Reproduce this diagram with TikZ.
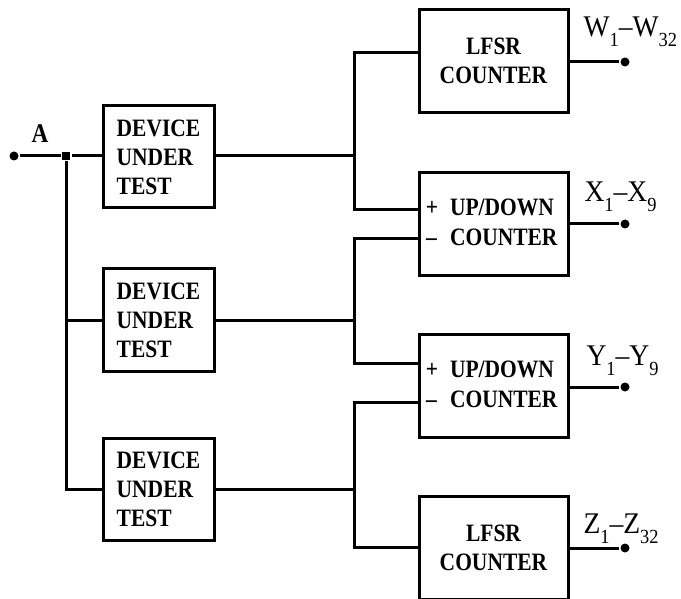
\documentclass[tikz,border=0pt]{standalone}
\usepackage{fontspec}
\setmainfont{Liberation Serif}
\newfontfamily\boxfont[FakeStretch=0.86]{Liberation Serif Bold}
\newfontfamily\lblfont[FakeStretch=0.92]{Liberation Serif}
\usetikzlibrary{calc}
\begin{document}
\begin{tikzpicture}[x=1pt,y=-1pt,
  line width=3pt,
  boxtxt/.style={font=\boxfont\fontsize{25}{29}\selectfont},
  dutbox/.style={draw,boxtxt,align=left,minimum width=111pt,minimum height=102pt,inner sep=0pt},
  cntbox/.style={draw,boxtxt,align=center,minimum width=149pt,minimum height=103pt,inner sep=0pt},
  lbl/.style={font=\lblfont\fontsize{30}{32}\selectfont,anchor=base west,inner sep=0pt},
  dot/.style={circle,fill,inner sep=0pt,minimum size=9pt},
  junc/.style={rectangle,fill,inner sep=0pt,minimum size=8pt}]
\useasboundingbox (0,0) rectangle (681,599);
\newcommand{\sbs}[1]{\raisebox{-10pt}{\fontsize{20}{20}\selectfont #1}}

% left part
\node[dot] (in) at (14,156) {};
\node[font=\boxfont\fontsize{27}{30}\selectfont,anchor=base,inner sep=0pt] (A) at (40,143) {A};
\node[junc] (J) at (66,156) {};
\node[dutbox] (dut1) at (158.5,157) {DEVICE\\UNDER\\TEST};
\node[dutbox] (dut2) at (158.5,320) {DEVICE\\UNDER\\TEST};
\node[dutbox] (dut3) at (158.5,489.5) {DEVICE\\UNDER\\TEST};

% right boxes
\node[cntbox] (lfsr1) at (493.5,61) {LFSR\\COUNTER};
\node[cntbox] (ud1) at (493.5,224) {};
\node[cntbox] (ud2) at (493.5,385.5) {};
\node[cntbox] (lfsr2) at (493.5,547.5) {LFSR\\COUNTER};

\foreach \u in {ud1,ud2}{
  \node[boxtxt,anchor=base,inner sep=0pt] (\u p) at ($(\u.west)+(14.5,-8)$) {+};
  \node[boxtxt,anchor=base west,inner sep=0pt] (\u a) at ($(\u.west)+(31,-8)$) {UP/DOWN};
  \node[boxtxt,anchor=base,inner sep=0pt] (\u m) at ($(\u.west)+(14,21.5)$) {–};
  \node[boxtxt,anchor=base west,inner sep=0pt] (\u b) at ($(\u.west)+(31,21.5)$) {COUNTER};
}

% input wiring
\draw (in) -- (J);
\draw (J) -- (dut1.west |- J);
\draw (J) |- (dut2.west);
\draw (J) |- (dut3.west);

% buses
\coordinate (b1) at (354,156);
\coordinate (b2) at (354,320);
\coordinate (b3) at (354,489);
\draw (dut1.east |- b1) -- (b1);
\draw (dut2.east) -- (b2);
\draw (dut3.east |- b3) -- (b3);
\draw ([yshift=8pt]lfsr1.west) -| (b1) |- ([yshift=14pt]ud1.west);
\draw ([yshift=-15pt]ud1.west) -| (b2) |- ([yshift=22.5pt]ud2.west);
\draw ([yshift=-16.5pt]ud2.west) -| (b3) |- (lfsr2.west);

% outputs
\node[dot] (w) at (625,62) {};
\node[dot] (x) at (625,224) {};
\node[dot] (y) at (625,387) {};
\node[dot] (z) at (625,548) {};
\draw (lfsr1.east |- w) -- (w);
\draw (ud1.east) -- (x);
\draw (ud2.east |- y) -- (y);
\draw (lfsr2.east |- z) -- (z);

\node[lbl] (wl) at (582,37) {W\sbs{1}–W\sbs{32}};
\node[lbl] (xl) at (583,202) {X\sbs{1}–X\sbs{9}};
\node[lbl] (yl) at (585,365) {Y\sbs{1}–Y\sbs{9}};
\node[lbl] (zl) at (582,533) {Z\sbs{1}–Z\sbs{32}};
\end{tikzpicture}
\end{document}
